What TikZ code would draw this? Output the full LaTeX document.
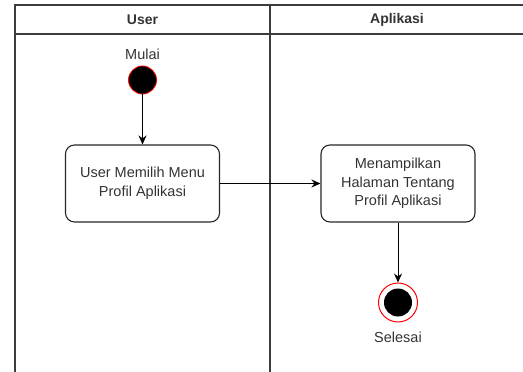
\documentclass[tikz,border=0pt]{standalone}
\usepackage{fontspec}
\setmainfont{Liberation Sans}
\usetikzlibrary{positioning,arrows.meta}

\definecolor{lanegray}{RGB}{60,60,60}
\definecolor{txtgray}{RGB}{51,51,51}
\definecolor{ringred}{RGB}{255,0,0}

\tikzset{
  lane/.style={draw=lanegray, line width=1.3pt},
  lanehead/.style={font=\bfseries\fontsize{14}{16}\selectfont, text=txtgray},
  activity/.style={draw=black!85, line width=1.1pt, rounded corners=9pt,
    minimum width=154pt, minimum height=77pt, align=center, text=txtgray,
    font=\fontsize{14.5}{18.5}\selectfont},
  initial/.style={circle, fill=black, draw=ringred, line width=0.8pt,
    minimum size=28pt, inner sep=0pt},
  final/.style={circle, fill=white, draw=ringred, line width=1pt,
    minimum size=39pt, inner sep=0pt},
  finaldot/.style={circle, fill=black, minimum size=28pt, inner sep=0pt},
  caption/.style={text=txtgray, font=\fontsize{14.5}{16}\selectfont},
  flow/.style={draw=black, line width=1pt, -{Stealth[length=9pt,width=8pt]}}
}

\begin{document}
\begin{tikzpicture}[x=1pt,y=-1pt]
  \useasboundingbox (0,0) rectangle (523,372);

  % swimlanes
  \draw[lane] (15,372) -- (15,5) -- (523,5);
  \draw[lane] (15,34) -- (523,34);
  \draw[lane] (270,5) -- (270,372);
  \node[lanehead] (laneUser) at (142.5,19.5) {User};
  \node[lanehead] (laneApp) at (397,19.5) {Aplikasi};

  % nodes
  \node[initial] (mulai) at (142.5,80) {};
  \node[caption, above=2pt of mulai] (mulaiLbl) {Mulai};
  \node[activity] (pilih) at (142.5,183.5) {User Memilih Menu\\Profil Aplikasi};
  \node[activity] (tampil) at (398,183.5) {Menampilkan\\Halaman Tentang\\Profil Aplikasi};
  \node[final] (selesai) at (398,302.5) {};
  \node[finaldot] (selesaiDot) at (selesai) {};
  \node[caption, below=6pt of selesai] (selesaiLbl) {Selesai};

  % flows
  \draw[flow] (mulai) -- (pilih);
  \draw[flow] (pilih) -- (tampil);
  \draw[flow] (tampil) -- (selesai);
\end{tikzpicture}
\end{document}
